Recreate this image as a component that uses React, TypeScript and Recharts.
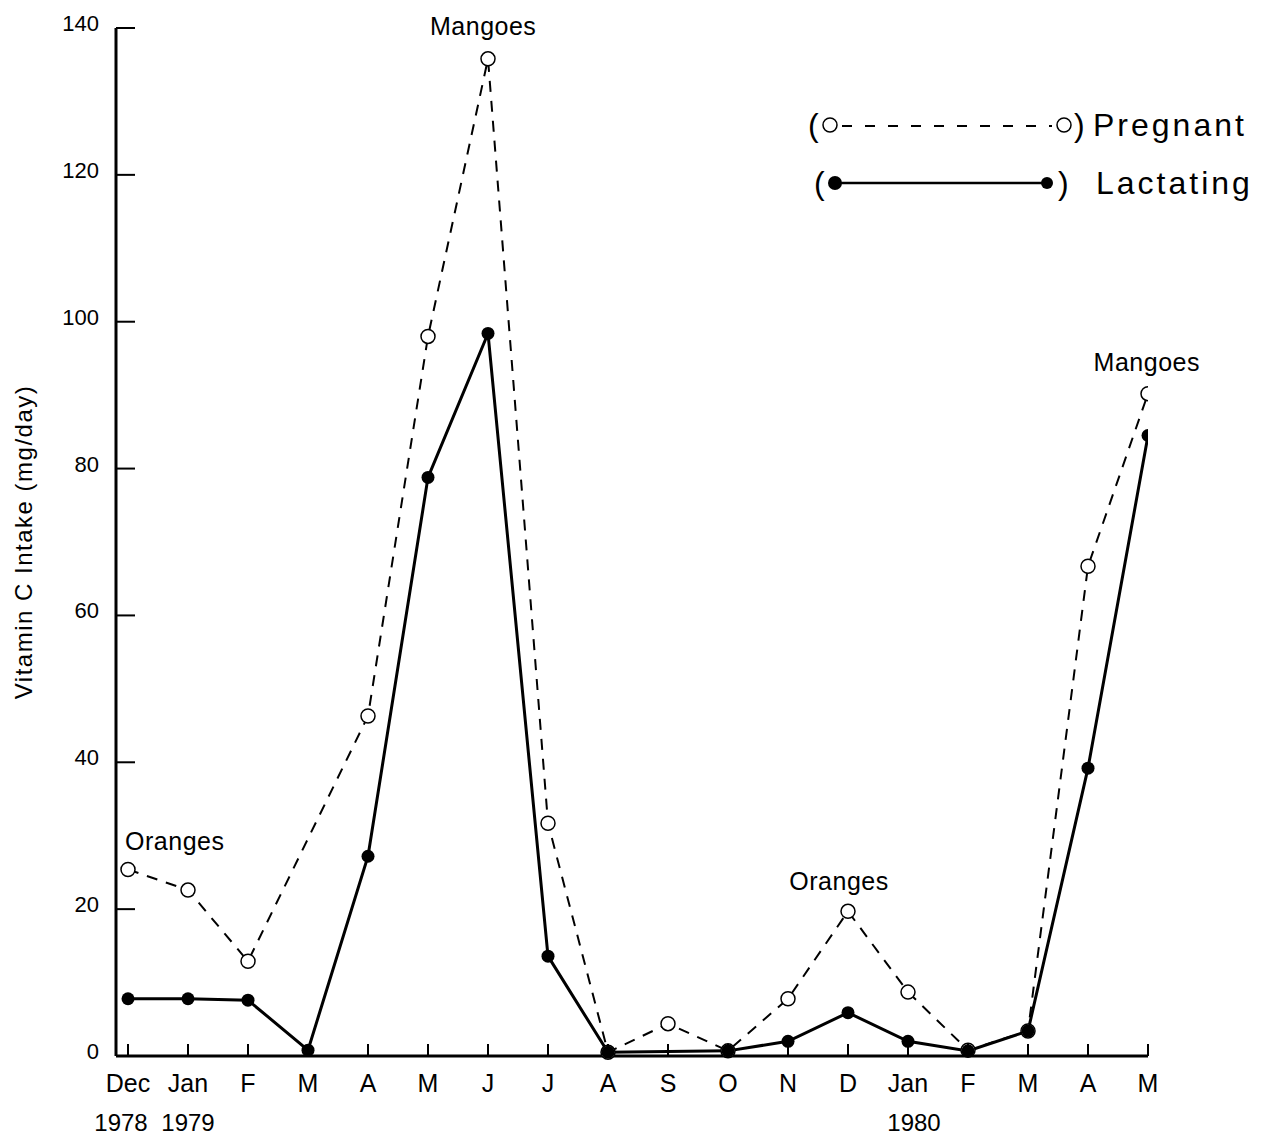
import { LineChart, Line, XAxis, YAxis, ReferenceDot } from 'recharts';

const months = ['Dec', 'Jan', 'F', 'M', 'A', 'M', 'J', 'J', 'A', 'S', 'O', 'N', 'D', 'Jan', 'F', 'M', 'A', 'M'];
const yearLabels: Record<number, string> = { 0: '1978', 1: '1979', 13: '1980' };
const pregnant = [25.4, 22.6, 12.9, null, 46.3, 98, 135.8, 31.7, 0.5, 4.4, 0.7, 7.8, 19.7, 8.7, 0.8, 3.4, 66.7, 90.2];
const lactating = [7.8, 7.8, 7.6, 0.8, 27.2, 78.8, 98.4, 13.6, 0.5, null, 0.7, 2, 5.9, 2, 0.7, 3.4, 39.2, 84.5];
const yTicks = [0, 20, 40, 60, 80, 100, 120, 140];

// text notes, placed in data units (month index, mg/day)
const notes = [
  { text: 'Oranges', x: 0.78, y: 28 },
  { text: 'Mangoes', x: 5.92, y: 139 },
  { text: 'Oranges', x: 11.85, y: 22.6 },
  { text: 'Mangoes', x: 16.98, y: 93.3 },
];

const FONT = '"Liberation Sans", Arial, Helvetica, sans-serif';

const data = months.map((m, i) => ({ i, month: m, pregnant: pregnant[i], lactating: lactating[i] }));

function XTick({ x, y, payload }: any) {
  const i = payload.value as number;
  const year = yearLabels[i];
  return (
    <g>
      <line x1={x} x2={x} y1={y} y2={y - 12} stroke="#000" strokeWidth={2} />
      <text x={x} y={y + 36} textAnchor="middle" fontSize={25} fontFamily={FONT} fill="#000">
        {months[i]}
      </text>
      {year && (
        <text x={x + (i === 0 ? -7 : i === 13 ? 6 : 0)} y={y + 75} textAnchor="middle" fontSize={24} fontFamily={FONT} fill="#000">
          {year}
        </text>
      )}
    </g>
  );
}

function YTick({ x, y, payload }: any) {
  return (
    <g>
      <line x1={x} x2={x + 19} y1={y} y2={y} stroke="#000" strokeWidth={2} />
      <text x={x - 17} y={y + 3} textAnchor="end" fontSize={22} fontFamily={FONT} fill="#000">
        {payload.value}
      </text>
    </g>
  );
}

function OpenDot({ cx, cy }: any) {
  if (cx == null || cy == null) return null;
  return <circle cx={cx} cy={cy} r={7} fill="#fff" stroke="#000" strokeWidth={1.5} />;
}

function FilledDot({ cx, cy }: any) {
  if (cx == null || cy == null) return null;
  return <circle cx={cx} cy={cy} r={6.5} fill="#000" />;
}

function LegendBox() {
  const t = { fontSize: 32, fontFamily: FONT, fill: '#000' };
  return (
    <svg width={460} height={120} style={{ display: 'block' }}>
      <text x={8} y={41} {...t}>(</text>
      <circle cx={30} cy={30} r={7} fill="#fff" stroke="#000" strokeWidth={1.5} />
      <line x1={42} x2={252} y1={31} y2={31} stroke="#000" strokeWidth={2} strokeDasharray="10 13" />
      <circle cx={264} cy={30} r={7} fill="#fff" stroke="#000" strokeWidth={1.5} />
      <text x={274} y={41} {...t}>)</text>
      <text x={293} y={41} letterSpacing={3} {...t}>Pregnant</text>

      <text x={14} y={99} {...t}>(</text>
      <circle cx={35} cy={88} r={7} fill="#000" />
      <line x1={40} x2={245} y1={88} y2={88} stroke="#000" strokeWidth={2.5} />
      <circle cx={247} cy={88} r={6} fill="#000" />
      <text x={258} y={99} {...t}>)</text>
      <text x={296} y={99} letterSpacing={3} {...t}>Lactating</text>
    </svg>
  );
}

export default function App() {
  return (
    <div style={{ position: 'absolute', left: 0, top: 0, width: 1265, height: 1137, background: '#fff' }}>
      <LineChart width={1265} height={1137} data={data} margin={{ top: 28, right: 117, bottom: 0, left: 0 }}>
        <XAxis
          dataKey="i"
          type="number"
          domain={[-0.2, 17]}
          ticks={data.map((d) => d.i)}
          interval={0}
          allowDataOverflow
          height={81}
          tickSize={0}
          tickMargin={0}
          tick={<XTick />}
          axisLine={{ stroke: '#000', strokeWidth: 3 }}
        />
        <YAxis
          type="number"
          domain={[0, 140]}
          ticks={yTicks}
          interval={0}
          width={116}
          tickSize={0}
          tickMargin={0}
          tick={<YTick />}
          axisLine={{ stroke: '#000', strokeWidth: 3 }}
          label={({ viewBox }: any) => (
            <text
              transform={`translate(${viewBox.x + 32}, ${viewBox.y + viewBox.height / 2}) rotate(-90)`}
              textAnchor="middle"
              fontSize={24}
              letterSpacing={1.5}
              fontFamily={FONT}
              fill="#000"
            >
              Vitamin C Intake (mg/day)
            </text>
          )}
        />
        <Line
          type="linear"
          dataKey="pregnant"
          name="Pregnant"
          stroke="#000"
          strokeWidth={2}
          strokeDasharray="11 9"
          connectNulls
          dot={<OpenDot />}
          activeDot={false}
          isAnimationActive={false}
        />
        <Line
          type="linear"
          dataKey="lactating"
          name="Lactating"
          stroke="#000"
          strokeWidth={3}
          connectNulls
          dot={<FilledDot />}
          activeDot={false}
          isAnimationActive={false}
        />
        {notes.map((n, k) => (
          <ReferenceDot
            key={k}
            x={n.x}
            y={n.y}
            r={1}
            ifOverflow="visible"
            shape={(p: any) => (
              <text x={p.cx} y={p.cy} textAnchor="middle" fontSize={25} letterSpacing={0.5} fontFamily={FONT} fill="#000">
                {n.text}
              </text>
            )}
          />
        ))}
      </LineChart>
      <div style={{ position: 'absolute', left: 800, top: 95 }}>
        <LegendBox />
      </div>
    </div>
  );
}
